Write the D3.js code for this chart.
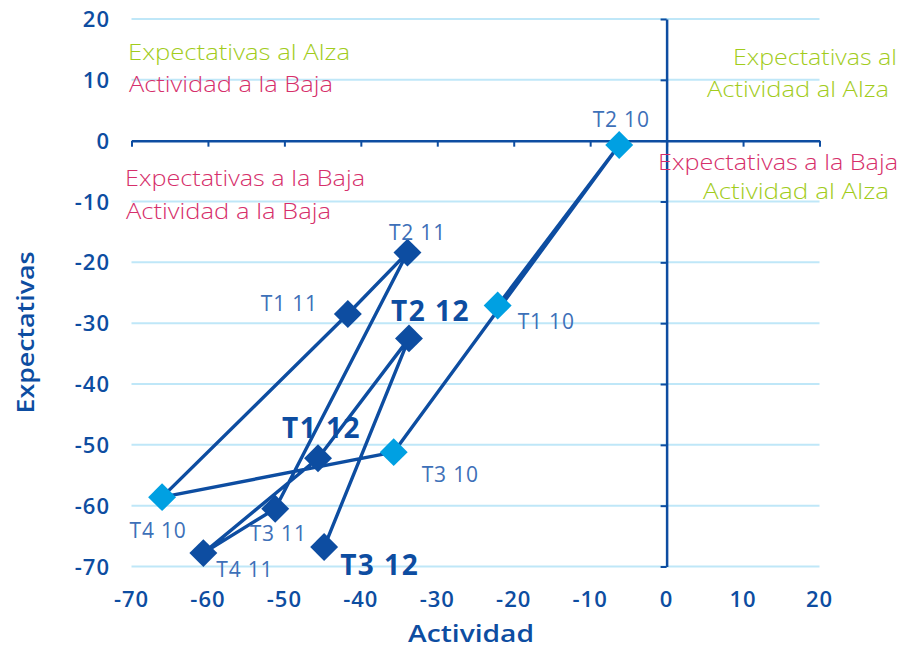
<!DOCTYPE html>
<html>
<head>
<meta charset="utf-8">
<script src="https://cdn.jsdelivr.net/npm/d3@7"></script>
<style>
  html, body { margin: 0; padding: 0; background: #ffffff; }
  svg { display: block; }
</style>
</head>
<body>
<div id="chart"></div>
<script>
// ---- DATA ----
const periods = ["T1 10", "T2 10", "T3 10", "T4 10", "T1 11", "T2 11", "T3 11", "T4 11", "T1 12", "T2 12", "T3 12"];
const actividad = [-22.1, -6.2, -35.7, -66.0, -41.7, -33.9, -51.2, -60.6, -45.6, -33.7, -44.8];
const expectativas = [-27.1, -0.7, -51.2, -58.6, -28.5, -18.4, -60.5, -67.8, -52.2, -32.5, -66.8];
const years = ["2010", "2010", "2010", "2010", "2011", "2011", "2011", "2011", "2012", "2012", "2012"];
const xTicks = [-70, -60, -50, -40, -30, -20, -10, 0, 10, 20];
const yTicks = [20, 10, 0, -10, -20, -30, -40, -50, -60, -70];
const xTitle = "Actividad";
const yTitle = "Expectativas";

// ---- LAYOUT / STYLE ----
const W = 901, H = 649;
const AXIS = "#0d4da1";
const GRID = "#bfe7f8";
const LIGHT = "#00a0e2";
const LABEL = "#3d70b8";
const GREEN = "#a2cc1c";
const MAGENTA = "#d62f6b";
const FONT = "'Open Sans', 'Noto Sans', sans-serif";

// label placement per period: [dx, dy, anchor, bold]
const labelPlacement = {
  "T1 10": [20, 23, "start", false],
  "T2 10": [2, -18, "middle", false],
  "T3 10": [28, 30, "start", false],
  "T4 10": [-4, 41, "middle", false],
  "T1 11": [-30, -3, "end", false],
  "T2 11": [10, -13, "middle", false],
  "T3 11": [3, 32, "middle", false],
  "T4 11": [13, 24, "start", false],
  "T1 12": [-36, -20, "start", true],
  "T2 12": [-18, -17, "start", true],
  "T3 12": [16, 28, "start", true]
};

// quadrant annotations: text, colour, x, baseline y, anchor, length
const notes = [
  ["Expectativas al Alza", GREEN, 128, 60, "start", 222],
  ["Actividad a la Baja", MAGENTA, 129, 92, "start", 204],
  ["Expectativas a la Baja", MAGENTA, 125, 186, "start", 240],
  ["Actividad a la Baja", MAGENTA, 126, 219, "start", 205],
  ["Expectativas al", GREEN, 897, 65, "end", 164],
  ["Actividad al Alza", GREEN, 889, 97, "end", 182],
  ["Expectativas a la Baja", MAGENTA, 898, 170, "end", 240],
  ["Actividad al Alza", GREEN, 889, 199, "end", 186]
];

const svg = d3.select("#chart").append("svg")
  .attr("width", W).attr("height", H)
  .style("font-family", FONT);

const x = d3.scaleLinear().domain([-70, 20]).range([131.5, 819.5]);
const y = d3.scaleLinear().domain([-70, 20]).range([566.5, 19]);

// gridlines
svg.append("g").selectAll("line")
  .data(yTicks.filter(d => d !== 0))
  .join("line")
  .attr("x1", x(-70)).attr("x2", x(20))
  .attr("y1", d => y(d)).attr("y2", d => y(d))
  .attr("stroke", GRID).attr("stroke-width", 2);

// horizontal axis at y = 0 (ticks down)
const xAxis = d3.axisBottom(x).tickValues(xTicks).tickSize(6).tickFormat("").tickSizeOuter(0);
const gx = svg.append("g").attr("transform", `translate(0,${y(0)})`).call(xAxis);
gx.select(".domain").attr("stroke", AXIS).attr("stroke-width", 2.5);
gx.selectAll(".tick line").attr("stroke", AXIS).attr("stroke-width", 2);

// vertical axis at x = 0 (ticks left)
const yAxis = d3.axisLeft(y).tickValues(yTicks).tickSize(6).tickFormat("").tickSizeOuter(0);
const gy = svg.append("g").attr("transform", `translate(${x(0)},0)`).call(yAxis);
gy.select(".domain").attr("stroke", AXIS).attr("stroke-width", 2.5);
gy.selectAll(".tick line").attr("stroke", AXIS).attr("stroke-width", 2);

// tick labels
svg.append("g").selectAll("text")
  .data(xTicks).join("text")
  .attr("x", d => x(d)).attr("y", 607)
  .attr("text-anchor", "middle")
  .attr("fill", AXIS).attr("font-size", 22).attr("font-weight", 600)
  .attr("letter-spacing", 1)
  .text(d => d);

svg.append("g").selectAll("text")
  .data(yTicks).join("text")
  .attr("x", 110).attr("y", d => y(d) + 8)
  .attr("text-anchor", "end")
  .attr("fill", AXIS).attr("font-size", 22).attr("font-weight", 600)
  .attr("letter-spacing", 1)
  .text(d => d);

// axis titles
svg.append("text")
  .attr("x", 471).attr("y", 642)
  .attr("text-anchor", "middle")
  .attr("fill", AXIS).attr("font-size", 23).attr("font-weight", 600)
  .attr("textLength", 126).attr("lengthAdjust", "spacingAndGlyphs")
  .text(xTitle);

svg.append("text")
  .attr("transform", `translate(34,332.5) rotate(-90)`)
  .attr("text-anchor", "middle")
  .attr("fill", AXIS).attr("font-size", 23).attr("font-weight", 600)
  .attr("textLength", 162).attr("lengthAdjust", "spacingAndGlyphs")
  .text(yTitle);

// quadrant notes
svg.append("g").selectAll("text")
  .data(notes).join("text")
  .attr("x", d => d[2]).attr("y", d => d[3])
  .attr("text-anchor", d => d[4])
  .attr("fill", d => d[1])
  .attr("font-size", 22).attr("font-weight", 300)
  .attr("textLength", d => d[5]).attr("lengthAdjust", "spacingAndGlyphs")
  .text(d => d[0]);

// data
const pts = periods.map((p, i) => ({ p, ax: actividad[i], ex: expectativas[i], yr: years[i] }));

const line = d3.line().x(d => x(d.ax)).y(d => y(d.ex));
svg.append("path")
  .datum(pts)
  .attr("d", line)
  .attr("fill", "none")
  .attr("stroke", AXIS)
  .attr("stroke-width", 3.4)
  .attr("stroke-linejoin", "round");

const diamond = d3.symbol().type(d3.symbolSquare).size(390);
svg.append("g").selectAll("path")
  .data(pts).join("path")
  .attr("d", diamond)
  .attr("transform", d => `translate(${x(d.ax)},${y(d.ex)}) rotate(45)`)
  .attr("fill", d => d.yr === "2010" ? LIGHT : AXIS);

// point labels
svg.append("g").selectAll("text")
  .data(pts).join("text")
  .attr("x", d => x(d.ax) + labelPlacement[d.p][0])
  .attr("y", d => y(d.ex) + labelPlacement[d.p][1])
  .attr("text-anchor", d => labelPlacement[d.p][2])
  .attr("fill", d => labelPlacement[d.p][3] ? AXIS : LABEL)
  .attr("font-size", d => labelPlacement[d.p][3] ? 28 : 21)
  .attr("font-weight", d => labelPlacement[d.p][3] ? 700 : 400)
  .attr("letter-spacing", d => labelPlacement[d.p][3] ? 1.5 : 0.8)
  .text(d => d.p);
</script>
</body>
</html>
